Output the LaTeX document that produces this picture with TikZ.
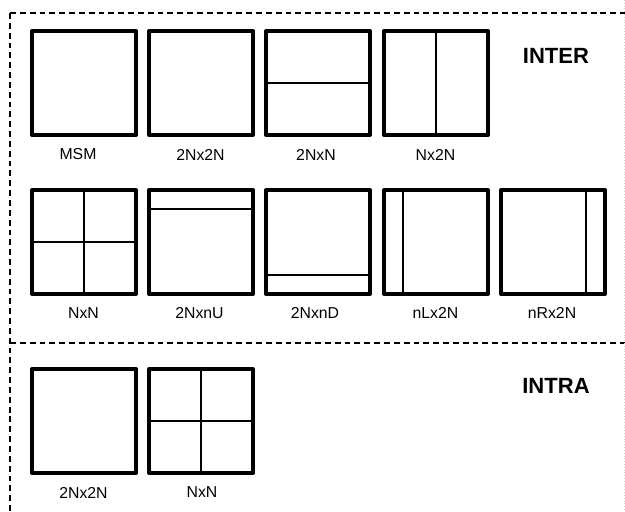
\documentclass[tikz,border=0pt]{standalone}
\usepackage{fontspec}
\setmainfont{Liberation Sans}
\usetikzlibrary{calc}

\tikzset{
  pu/.style={draw, line width=3.4pt, line join=round, minimum size=3.12cm, inner sep=0pt},
  cut/.style={line width=1.7pt},
  lbl/.style={font=\fontsize{13.5}{15}\selectfont, inner sep=0pt},
  mode/.style={font=\bfseries\fontsize{18.8}{20}\selectfont, inner sep=0pt},
  frame/.style={line width=1.7pt, dash pattern=on 5pt off 3.4pt}
}

\begin{document}
\begin{tikzpicture}[x=0.03cm,y=-0.03cm]
	\useasboundingbox (0,0) rectangle (625,511);
    % frame
    \draw [frame] (10,13) -- (625,13);
    \draw [frame] (10,343) -- (625,343);
    \draw [frame] (10,13) -- (10,511);
    \draw [gray!35, line width=0.4pt, dotted] (624.5,0) -- (624.5,511);
    % inter, first row
    \node[pu] (msm) at (84,83) {};
    \node[pu] (sq) at (201,83) {};
    \node[pu] (hor) at (318,83) {};
    \node[pu] (ver) at (436,83) {};
    \draw [cut] (hor.west) -- (hor.east);
    \draw [cut] (ver.north) -- (ver.south);
    % inter, second row
    \node[pu] (quad) at (84,242) {};
    \node[pu] (up) at (201,242) {};
    \node[pu] (dn) at (318,242) {};
    \node[pu] (lt) at (436,242) {};
    \node[pu] (rt) at (553,242) {};
    \draw [cut] (quad.west) -- (quad.east);
    \draw [cut] (quad.north) -- (quad.south);
    \draw [cut] ($(up.north west)!0.19!(up.south west)$) -- ($(up.north east)!0.19!(up.south east)$);
    \draw [cut] ($(dn.south west)!0.19!(dn.north west)$) -- ($(dn.south east)!0.19!(dn.north east)$);
    \draw [cut] ($(lt.north west)!0.19!(lt.north east)$) -- ($(lt.south west)!0.19!(lt.south east)$);
    \draw [cut] ($(rt.north east)!0.19!(rt.north west)$) -- ($(rt.south east)!0.19!(rt.south west)$);
    % intra
    \node[pu] (isq) at (84,421) {};
    \node[pu] (iquad) at (201,421) {};
    \draw [cut] (iquad.west) -- (iquad.east);
    \draw [cut] (iquad.north) -- (iquad.south);
    % labels
    \node[lbl] (lmsm) at (78,154.5) {MSM};
    \node[lbl] (lsq) at (200.5,154.5) {2Nx2N};
    \node[lbl] (lhor) at (316,154.5) {2NxN};
    \node[lbl] (lver) at (435.5,154.5) {Nx2N};
    \node[lbl] (lquad) at (83.5,313) {NxN};
    \node[lbl] (lup) at (199.5,313) {2NxnU};
    \node[lbl] (ldn) at (315,313) {2NxnD};
    \node[lbl] (llt) at (435.5,313) {nLx2N};
    \node[lbl] (lrt) at (552,313) {nRx2N};
    \node[lbl] (lisq) at (83.5,492.5) {2Nx2N};
    \node[lbl] (liquad) at (202,492.5) {NxN};
    \node[mode] (inter) at (556,56) {INTER};
    \node[mode] (intra) at (556,386) {INTRA};
\end{tikzpicture}
\end{document}
